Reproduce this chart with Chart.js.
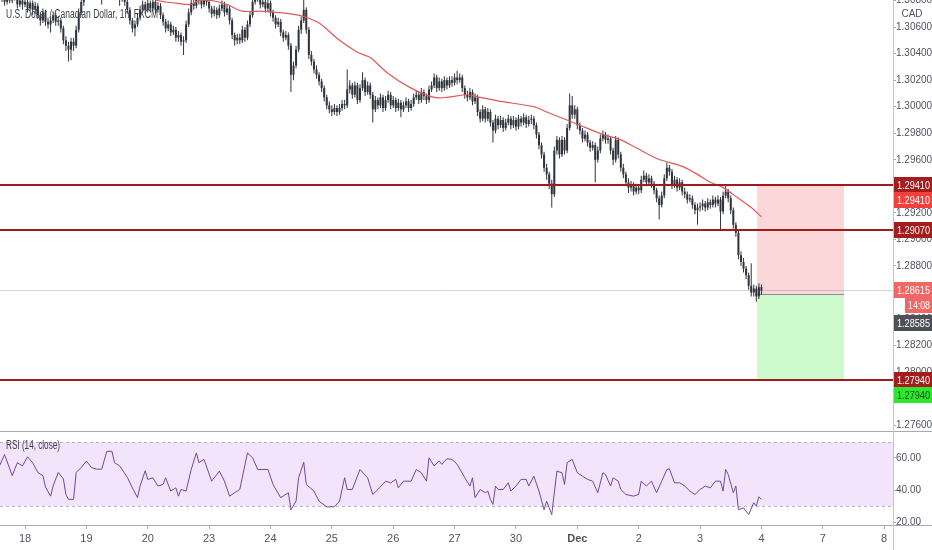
<!DOCTYPE html>
<html>
<head>
<meta charset="utf-8">
<script src="https://cdn.jsdelivr.net/npm/chart.js@4.4.1/dist/chart.umd.min.js"></script>
<style>
  body { margin: 0; background: #fff; }
  #wrap { position: relative; width: 932px; height: 550px; overflow: hidden; background: #fff; }
  canvas { position: absolute; left: 0; }
  #priceChart { top: 0; }
  #rsiChart { top: 432px; }
  .rule { position: absolute; background: #a8abb3; }
</style>
</head>
<body>
<div id="wrap">
  <canvas id="priceChart" width="932" height="431"></canvas>
  <canvas id="rsiChart" width="932" height="118"></canvas>
  <div class="rule" style="left:0;top:431px;width:932px;height:1px"></div>
  <div class="rule" style="left:0;top:525px;width:932px;height:1px"></div>
  <div class="rule" style="left:893px;top:0;width:1px;height:550px;background:#c3c5cb"></div>
</div>
<script>
// hourly candles, USDCAD, first bar at hour -9 (hour 0 = start of the 18th)
var firstHour = -9;
var opens = [
  1.3086,1.3082,1.3079,1.3083,1.3080,1.3085,1.3082,1.3077,1.3080,1.3077,1.3079,1.3074,
  1.3078,1.3073,1.3076,1.3069,1.3065,1.3071,1.3064,1.3062,1.3065,1.3069,1.3064,1.3065,
  1.3059,1.3050,1.3046,1.3043,1.3049,1.3046,1.3058,1.3071,1.3079,1.3084,1.3088,1.3092,
  1.3095,1.3090,1.3098,1.3094,1.3085,1.3090,1.3097,1.3102,1.3098,1.3093,1.3088,1.3082,
  1.3085,1.3079,1.3073,1.3065,1.3059,1.3062,1.3067,1.3073,1.3077,1.3073,1.3078,1.3074,
  1.3079,1.3073,1.3076,1.3069,1.3064,1.3059,1.3062,1.3056,1.3058,1.3052,1.3054,1.3049,
  1.3050,1.3062,1.3071,1.3078,1.3076,1.3082,1.3080,1.3077,1.3083,1.3079,1.3074,1.3070,
  1.3073,1.3069,1.3074,1.3077,1.3071,1.3074,1.3065,1.3054,1.3050,1.3052,1.3050,1.3058,
  1.3052,1.3062,1.3069,1.3079,1.3084,1.3082,1.3077,1.3079,1.3074,1.3078,1.3071,1.3067,
  1.3062,1.3064,1.3056,1.3052,1.3054,1.3046,1.3024,1.3031,1.3043,1.3058,1.3065,1.3073,
  1.3058,1.3039,1.3034,1.3028,1.3024,1.3019,1.3014,1.3007,1.3001,1.2998,1.2996,1.2999,
  1.2996,1.2999,1.3002,1.3001,1.3013,1.3016,1.3009,1.3016,1.3005,1.3014,1.3020,1.3011,
  1.3016,1.3009,1.2998,1.3005,1.3001,1.3007,1.2999,1.3005,1.3009,1.3001,1.3005,1.2999,
  1.3003,1.2998,1.3001,1.3004,1.2999,1.3002,1.3007,1.3009,1.3005,1.3011,1.3008,1.3005,
  1.3013,1.3016,1.3022,1.3014,1.3019,1.3014,1.3020,1.3016,1.3020,1.3018,1.3022,1.3020,
  1.3022,1.3014,1.3009,1.3007,1.3011,1.3004,1.3007,1.2996,1.2991,1.2998,1.2991,1.2996,
  1.2988,1.2982,1.2991,1.2986,1.2990,1.2984,1.2988,1.2991,1.2986,1.2990,1.2985,1.2991,
  1.2988,1.2992,1.2987,1.2990,1.2991,1.2986,1.2979,1.2971,1.2964,1.2954,1.2949,1.2942,
  1.2934,1.2967,1.2975,1.2964,1.2975,1.2967,1.2984,1.3001,1.2994,1.2998,1.2986,1.2982,
  1.2976,1.2979,1.2973,1.2969,1.2971,1.2960,1.2967,1.2976,1.2979,1.2975,1.2976,1.2967,
  1.2960,1.2975,1.2964,1.2954,1.2949,1.2943,1.2939,1.2941,1.2936,1.2939,1.2937,1.2945,
  1.2948,1.2943,1.2946,1.2942,1.2937,1.2931,1.2926,1.2933,1.2946,1.2954,1.2951,1.2941,
  1.2945,1.2939,1.2943,1.2936,1.2934,1.2930,1.2931,1.2926,1.2922,1.2924,1.2925,1.2927,
  1.2924,1.2928,1.2926,1.2930,1.2927,1.2930,1.2921,1.2933,1.2936,1.2931,1.2922,1.2911,
  1.2905,1.2888,1.2883,1.2878,1.2873,1.2865,1.2860,1.2863,1.2857,1.2864
];
var highs = [
  1.3089,1.3085,1.3087,1.3086,1.3089,1.3088,1.3084,1.3083,1.3082,1.3082,1.3081,1.3080,
  1.3080,1.3079,1.3078,1.3071,1.3074,1.3073,1.3067,1.3068,1.3072,1.3071,1.3068,1.3067,
  1.3061,1.3053,1.3049,1.3052,1.3052,1.3061,1.3074,1.3082,1.3088,1.3092,1.3096,1.3099,
  1.3098,1.3101,1.3100,1.3096,1.3093,1.3100,1.3106,1.3104,1.3100,1.3095,1.3090,1.3088,
  1.3087,1.3081,1.3075,1.3067,1.3065,1.3070,1.3076,1.3080,1.3079,1.3082,1.3080,1.3083,
  1.3081,1.3079,1.3078,1.3071,1.3066,1.3065,1.3064,1.3061,1.3060,1.3057,1.3056,1.3053,
  1.3065,1.3074,1.3082,1.3081,1.3086,1.3085,1.3082,1.3087,1.3085,1.3081,1.3076,1.3076,
  1.3075,1.3077,1.3080,1.3079,1.3077,1.3076,1.3067,1.3056,1.3055,1.3055,1.3061,1.3060,
  1.3065,1.3072,1.3082,1.3088,1.3087,1.3084,1.3082,1.3081,1.3081,1.3080,1.3073,1.3069,
  1.3067,1.3066,1.3058,1.3057,1.3056,1.3048,1.3034,1.3046,1.3061,1.3068,1.3084,1.3075,
  1.3060,1.3042,1.3036,1.3031,1.3026,1.3021,1.3016,1.3009,1.3004,1.3001,1.3002,1.3001,
  1.3002,1.3005,1.3005,1.3028,1.3020,1.3018,1.3019,1.3018,1.3017,1.3026,1.3022,1.3019,
  1.3018,1.3011,1.3008,1.3007,1.3010,1.3009,1.3008,1.3012,1.3011,1.3008,1.3007,1.3006,
  1.3005,1.3004,1.3007,1.3006,1.3005,1.3010,1.3012,1.3011,1.3014,1.3013,1.3010,1.3016,
  1.3019,1.3025,1.3024,1.3022,1.3021,1.3023,1.3022,1.3023,1.3023,1.3025,1.3027,1.3025,
  1.3024,1.3016,1.3012,1.3014,1.3013,1.3010,1.3009,1.2998,1.3001,1.3000,1.2999,1.2998,
  1.2990,1.2994,1.2993,1.2993,1.2992,1.2991,1.2994,1.2993,1.2993,1.2992,1.2994,1.2993,
  1.2995,1.2994,1.2993,1.2994,1.2993,1.2988,1.2981,1.2973,1.2966,1.2957,1.2951,1.2945,
  1.2970,1.2978,1.2977,1.2978,1.2977,1.2987,1.3010,1.3008,1.3001,1.3000,1.2988,1.2984,
  1.2982,1.2981,1.2975,1.2974,1.2973,1.2970,1.2979,1.2982,1.2981,1.2979,1.2978,1.2969,
  1.2978,1.2977,1.2966,1.2957,1.2951,1.2946,1.2944,1.2943,1.2942,1.2941,1.2948,1.2952,
  1.2950,1.2949,1.2948,1.2944,1.2939,1.2933,1.2936,1.2949,1.2958,1.2956,1.2953,1.2948,
  1.2947,1.2946,1.2945,1.2939,1.2936,1.2934,1.2933,1.2928,1.2927,1.2928,1.2930,1.2929,
  1.2931,1.2930,1.2933,1.2932,1.2933,1.2932,1.2936,1.2941,1.2938,1.2933,1.2924,1.2913,
  1.2907,1.2891,1.2886,1.2880,1.2875,1.2882,1.2866,1.2865,1.2867,1.2866
];
var lows = [
  1.3079,1.3076,1.3077,1.3078,1.3078,1.3080,1.3074,1.3075,1.3073,1.3075,1.3071,1.3072,
  1.3069,1.3070,1.3066,1.3061,1.3063,1.3061,1.3059,1.3056,1.3063,1.3061,1.3061,1.3056,
  1.3047,1.3042,1.3034,1.3035,1.3042,1.3044,1.3056,1.3069,1.3076,1.3081,1.3085,1.3089,
  1.3086,1.3088,1.3090,1.3077,1.3082,1.3088,1.3095,1.3095,1.3090,1.3085,1.3076,1.3079,
  1.3076,1.3070,1.3062,1.3056,1.3053,1.3060,1.3065,1.3071,1.3070,1.3071,1.3071,1.3072,
  1.3070,1.3071,1.3066,1.3061,1.3056,1.3057,1.3053,1.3054,1.3049,1.3049,1.3046,1.3039,
  1.3048,1.3060,1.3069,1.3073,1.3074,1.3077,1.3074,1.3075,1.3076,1.3071,1.3067,1.3068,
  1.3066,1.3067,1.3072,1.3068,1.3069,1.3062,1.3051,1.3046,1.3047,1.3047,1.3048,1.3049,
  1.3050,1.3060,1.3067,1.3077,1.3079,1.3074,1.3075,1.3071,1.3072,1.3068,1.3064,1.3059,
  1.3060,1.3053,1.3049,1.3050,1.3043,1.3011,1.3020,1.3029,1.3041,1.3055,1.3063,1.3055,
  1.3036,1.3031,1.3025,1.3021,1.3016,1.3011,1.3004,1.2998,1.2995,1.2993,1.2994,1.2993,
  1.2994,1.2997,1.2998,1.2999,1.3010,1.3006,1.3007,1.3002,1.3003,1.3012,1.3008,1.3009,
  1.3006,1.2988,1.2996,1.2998,1.2999,1.2996,1.2997,1.3003,1.2998,1.2999,1.2996,1.2997,
  1.2992,1.2996,1.2999,1.2996,1.2997,1.3000,1.3005,1.3002,1.3003,1.3005,1.3002,1.3003,
  1.3011,1.3014,1.3011,1.3012,1.3011,1.3012,1.3013,1.3014,1.3015,1.3016,1.3017,1.3018,
  1.3011,1.3006,1.3004,1.3005,1.3001,1.3002,1.2993,1.2988,1.2989,1.2988,1.2989,1.2985,
  1.2973,1.2980,1.2983,1.2984,1.2981,1.2982,1.2986,1.2983,1.2984,1.2982,1.2983,1.2985,
  1.2986,1.2984,1.2985,1.2987,1.2983,1.2976,1.2968,1.2961,1.2951,1.2945,1.2938,1.2924,
  1.2932,1.2964,1.2961,1.2962,1.2964,1.2965,1.2982,1.2991,1.2991,1.2983,1.2979,1.2973,
  1.2974,1.2970,1.2966,1.2967,1.2943,1.2958,1.2965,1.2974,1.2972,1.2972,1.2964,1.2956,
  1.2958,1.2961,1.2951,1.2946,1.2940,1.2935,1.2936,1.2933,1.2934,1.2934,1.2935,1.2943,
  1.2940,1.2941,1.2939,1.2934,1.2928,1.2915,1.2924,1.2931,1.2944,1.2948,1.2938,1.2939,
  1.2936,1.2937,1.2933,1.2931,1.2927,1.2928,1.2923,1.2919,1.2911,1.2921,1.2922,1.2921,
  1.2922,1.2923,1.2924,1.2924,1.2925,1.2907,1.2919,1.2931,1.2928,1.2919,1.2908,1.2902,
  1.2885,1.2880,1.2875,1.2870,1.2862,1.2857,1.2857,1.2853,1.2855,1.2858
];
var closes = [
  1.3082,1.3079,1.3083,1.3080,1.3085,1.3082,1.3077,1.3080,1.3077,1.3079,1.3074,1.3078,
  1.3073,1.3076,1.3069,1.3065,1.3071,1.3064,1.3062,1.3065,1.3069,1.3064,1.3065,1.3059,
  1.3050,1.3046,1.3043,1.3049,1.3046,1.3058,1.3071,1.3079,1.3084,1.3088,1.3092,1.3095,
  1.3090,1.3098,1.3094,1.3085,1.3090,1.3097,1.3102,1.3098,1.3093,1.3088,1.3082,1.3085,
  1.3079,1.3073,1.3065,1.3059,1.3062,1.3067,1.3073,1.3077,1.3073,1.3078,1.3074,1.3079,
  1.3073,1.3076,1.3069,1.3064,1.3059,1.3062,1.3056,1.3058,1.3052,1.3054,1.3049,1.3050,
  1.3062,1.3071,1.3078,1.3076,1.3082,1.3080,1.3077,1.3083,1.3079,1.3074,1.3070,1.3073,
  1.3069,1.3074,1.3077,1.3071,1.3074,1.3065,1.3054,1.3050,1.3052,1.3050,1.3058,1.3052,
  1.3062,1.3069,1.3079,1.3084,1.3082,1.3077,1.3079,1.3074,1.3078,1.3071,1.3067,1.3062,
  1.3064,1.3056,1.3052,1.3054,1.3046,1.3024,1.3031,1.3043,1.3058,1.3065,1.3073,1.3058,
  1.3039,1.3034,1.3028,1.3024,1.3019,1.3014,1.3007,1.3001,1.2998,1.2996,1.2999,1.2996,
  1.2999,1.3002,1.3001,1.3013,1.3016,1.3009,1.3016,1.3005,1.3014,1.3020,1.3011,1.3016,
  1.3009,1.2998,1.3005,1.3001,1.3007,1.2999,1.3005,1.3009,1.3001,1.3005,1.2999,1.3003,
  1.2998,1.3001,1.3004,1.2999,1.3002,1.3007,1.3009,1.3005,1.3011,1.3008,1.3005,1.3013,
  1.3016,1.3022,1.3014,1.3019,1.3014,1.3020,1.3016,1.3020,1.3018,1.3022,1.3020,1.3022,
  1.3014,1.3009,1.3007,1.3011,1.3004,1.3007,1.2996,1.2991,1.2998,1.2991,1.2996,1.2988,
  1.2982,1.2991,1.2986,1.2990,1.2984,1.2988,1.2991,1.2986,1.2990,1.2985,1.2991,1.2988,
  1.2992,1.2987,1.2990,1.2991,1.2986,1.2979,1.2971,1.2964,1.2954,1.2949,1.2942,1.2934,
  1.2967,1.2975,1.2964,1.2975,1.2967,1.2984,1.3001,1.2994,1.2998,1.2986,1.2982,1.2976,
  1.2979,1.2973,1.2969,1.2971,1.2960,1.2967,1.2976,1.2979,1.2975,1.2976,1.2967,1.2960,
  1.2975,1.2964,1.2954,1.2949,1.2943,1.2939,1.2941,1.2936,1.2939,1.2937,1.2945,1.2948,
  1.2943,1.2946,1.2942,1.2937,1.2931,1.2926,1.2933,1.2946,1.2954,1.2951,1.2941,1.2945,
  1.2939,1.2943,1.2936,1.2934,1.2930,1.2931,1.2926,1.2922,1.2924,1.2925,1.2927,1.2924,
  1.2928,1.2926,1.2930,1.2927,1.2930,1.2921,1.2933,1.2936,1.2931,1.2922,1.2911,1.2905,
  1.2888,1.2883,1.2878,1.2873,1.2865,1.2860,1.2863,1.2857,1.2864,1.28615
];

// moving average line [hour, price]
var maPoints = [
  [30,1.3095],[45,1.3086],[52,1.3080],[59,1.3078],[65,1.3077],[68,1.3080],[73,1.3080],
  [79,1.3077],[85,1.3072],[92,1.3072],[99,1.3071],[104,1.3070],[109,1.3068],[115,1.3063],
  [123,1.3050],[130,1.3041],[135,1.3037],[142,1.3025],[151,1.3014],[160,1.3007],[165,1.3007],
  [173,1.3009],[178,1.3007],[186,1.3004],[199,1.3000],[204,1.2996],[212,1.2990],[217,1.2986],
  [226,1.2979],[233,1.2975],[239,1.2969],[247,1.2961],[252,1.2958],[257,1.2955],[263,1.2949],
  [268,1.2943],[273,1.2939],[279,1.2931],[284,1.2924],[288,1.2917]
];

// RSI(14) [hour, value]
var rsiPoints = [
  [-10,55],[-8,62],[-5,49],[-3,57],[-1,55],[1,60.6],[3,57],[5,51],[7,49],[8,42],[10,36.4],
  [11,42.6],[13,51],[15,47],[16,37.4],[17,34.4],[19,34.4],[20,51],[22,54],[24,58],[26,54],
  [28,53],[30,53],[32,64],[34,64],[35,57],[37,55],[40,48],[42,41.5],[44,35.4],[45,42.6],
  [47,52],[48,46.7],[50,47.7],[52,42.6],[54,43.6],[55,47.7],[57,39.5],[59,41.5],[60,36.4],
  [61,40.5],[63,39.5],[65,52.8],[67,63],[68,57],[70,59],[73,45.6],[76,51.8],[78,45.6],
  [80,36.4],[83,39.5],[84,40.5],[87,63],[89,60],[91,52.8],[95,52.8],[97,43.6],[100,35.4],
  [103,38.5],[104,28],[106,33.3],[107,47.7],[109,57.3],[110,43.6],[113,39.5],[115,33.3],
  [118,29.8],[121,29.8],[123,33.3],[125,47.7],[126,40.5],[128,40.5],[131,52.8],[134,47.7],
  [136,37.4],[138,40.5],[141,45.6],[143,44.6],[145,46.7],[146,41.5],[148,45.6],[151,45.6],
  [153,52.8],[155,50.8],[157,45.6],[158,60],[160,55],[162,58],[163,56],[165,59.4],[167,59],
  [169,56],[172,47.7],[174,42.6],[175,47.7],[176,35.4],[178,40.5],[180,38.5],[181,39.5],
  [182,34.4],[183,31.3],[184,42.6],[185,40.5],[187,40.5],[189,44.6],[190,39.5],[192,42.6],
  [194,46.7],[196,46.7],[197,42.6],[199,48.7],[201,39.5],[203,28],[204,33.3],[205,29.2],
  [206,25],[208,51.8],[210,50.8],[211,43.6],[212,57],[214,59],[216,50.8],[218,48.7],
  [220,46.7],[222,45.6],[224,38.5],[226,50.8],[227,49.7],[229,42.6],[230,47.7],[232,45.6],
  [233,40.5],[235,37.4],[238,36.4],[240,37.4],[241,45.6],[243,42.6],[245,45.6],[247,38.5],
  [249,45.6],[251,52.8],[252,53.2],[254,44.6],[256,44.6],[258,42.6],[260,39.5],[262,37.4],
  [264,40.5],[266,42.6],[268,41.5],[270,45.6],[272,45.6],[273,39.5],[274,52.8],[275,49.7],
  [277,38.5],[278,42.6],[279,28],[281,29.2],[283,25],[285,32.3],[286,30.3],[287,36],[288,34.4]
];

var dayTicks = [0, 24, 48, 72, 96, 120, 144, 168, 192, 216, 240, 264, 288, 312, 336];
var dayLabels = ['18', '19', '20', '23', '24', '25', '26', '27', '30', 'Dec', '2', '3', '4', '7', '8'];
var priceTicks = [1.276, 1.278, 1.280, 1.282, 1.284, 1.286, 1.288, 1.290, 1.292, 1.294,
                  1.296, 1.298, 1.300, 1.302, 1.304, 1.306, 1.308];
var rsiTicks = [20, 40, 60];

var levelPrices = [1.2941, 1.2907, 1.2794];
var lastPrice = 1.28615;
var countdown = '14:08';
var position = { fromHour: 286.3, toHour: 320.3, stop: 1.2941, entry: 1.28585, target: 1.2794 };

var FONT = "'Liberation Sans', Arial, sans-serif";
Chart.defaults.font.family = FONT;
Chart.defaults.font.size = 10;
Chart.defaults.color = '#50535e';

var xMin = -9.78, xMax = 339.45;
var hours = closes.map(function (_, i) { return firstHour + i; });

function drawTag(ctx, y, text, bg, fg, left) {
  y = Math.round(y);
  ctx.fillStyle = bg;
  ctx.fillRect(left, y - 8, 932 - left, 16);
  ctx.fillStyle = fg;
  ctx.textAlign = 'left';
  ctx.textBaseline = 'middle';
  ctx.fillText(text, left + 3, y + 0.5, 932 - left - 5);
}

var pricePanel = {
  id: 'pricePanel',
  beforeDatasetsDraw: function (chart) {
    var ctx = chart.ctx, a = chart.chartArea, x = chart.scales.x, y = chart.scales.y;
    ctx.save();
    var yl = Math.round(y.getPixelForValue(lastPrice)) + 0.5;
    ctx.strokeStyle = '#d4d6dc';
    ctx.lineWidth = 1;
    ctx.beginPath(); ctx.moveTo(a.left, yl); ctx.lineTo(a.right, yl); ctx.stroke();

    var x0 = x.getPixelForValue(position.fromHour), x1 = x.getPixelForValue(position.toHour);
    var ys = y.getPixelForValue(position.stop), ye = y.getPixelForValue(position.entry),
        yt = y.getPixelForValue(position.target);
    ctx.fillStyle = 'rgba(242, 54, 69, 0.2)';
    ctx.fillRect(x0, ys, x1 - x0, ye - ys);
    ctx.fillStyle = 'rgba(0, 230, 0, 0.2)';
    ctx.fillRect(x0, ye, x1 - x0, yt - ye);
    ctx.strokeStyle = '#8a8d96';
    ctx.beginPath(); ctx.moveTo(x0, Math.round(ye) + 0.5); ctx.lineTo(x1, Math.round(ye) + 0.5); ctx.stroke();
    ctx.restore();
  },
  afterDatasetsDraw: function (chart) {
    var ctx = chart.ctx, a = chart.chartArea, y = chart.scales.y;
    ctx.save();
    ctx.strokeStyle = '#a01c1c';
    ctx.lineWidth = 2;
    levelPrices.forEach(function (p) {
      var py = Math.round(y.getPixelForValue(p));
      ctx.beginPath(); ctx.moveTo(a.left, py); ctx.lineTo(a.right, py); ctx.stroke();
    });
    ctx.fillStyle = '#3d404a';
    ctx.font = '12px ' + FONT;
    ctx.textAlign = 'left';
    ctx.textBaseline = 'middle';
    ctx.fillText('U.S. Dollar / Canadian Dollar, 1h, FXCM', 6, 15, 152);
    ctx.restore();
  },
  afterDraw: function (chart) {
    var ctx = chart.ctx, y = chart.scales.y;
    ctx.save();
    ctx.font = '10px ' + FONT;
    ctx.fillStyle = '#50535e';
    ctx.textAlign = 'center';
    ctx.textBaseline = 'middle';
    ctx.fillText('CAD', 912, 14);
    ctx.font = '11px ' + FONT;
    var yStop = y.getPixelForValue(levelPrices[0]);
    var yMid = y.getPixelForValue(levelPrices[1]);
    var yTarget = y.getPixelForValue(levelPrices[2]);
    var yLast = y.getPixelForValue(lastPrice);
    var yEntry = y.getPixelForValue(position.entry);
    drawTag(ctx, yStop, '1.29410', '#a51c1c', '#fff', 894);
    drawTag(ctx, yStop + 15, '1.29410', '#f2403d', '#fff', 894);
    drawTag(ctx, yMid, '1.29070', '#a51c1c', '#fff', 894);
    drawTag(ctx, yLast, '1.28615', '#f26666', '#fff', 894);
    drawTag(ctx, yLast + 15, countdown, '#f26666', '#fff', 905);
    drawTag(ctx, yEntry + 28.5, '1.28585', '#4e5058', '#fff', 894);
    drawTag(ctx, yTarget, '1.27940', '#a51c1c', '#fff', 894);
    drawTag(ctx, yTarget + 15, '1.27940', '#2ee62e', '#0f4f0f', 894);
    ctx.restore();
  }
};

new Chart(document.getElementById('priceChart'), {
  type: 'bar',
  data: {
    datasets: [{
      type: 'line',
      data: maPoints.map(function (p) { return { x: p[0], y: p[1] }; }),
      borderColor: '#e05858',
      borderWidth: 1.2,
      pointRadius: 0,
      tension: 0.3
    }, {
      data: hours.map(function (h, i) { return { x: h, y: [opens[i], closes[i]] }; }),
      backgroundColor: '#30333c',
      barThickness: 2,
      minBarLength: 1,
      grouped: false,
      inflateAmount: 0
    }, {
      data: hours.map(function (h, i) { return { x: h, y: [lows[i], highs[i]] }; }),
      backgroundColor: '#30333c',
      barThickness: 1,
      grouped: false,
      inflateAmount: 0
    }]
  },
  options: {
    responsive: false,
    animation: false,
    devicePixelRatio: 1,
    layout: { padding: 0 },
    plugins: { legend: { display: false }, tooltip: { enabled: false } },
    scales: {
      x: {
        type: 'linear', min: xMin, max: xMax, offset: false, display: false,
        grid: { offset: false }
      },
      y: {
        position: 'right', min: 1.27556, max: 1.30804, beginAtZero: false,
        afterBuildTicks: function (s) { s.ticks = priceTicks.map(function (v) { return { value: v }; }); },
        afterFit: function (s) { s.width = 39; s.paddingTop = 0; s.paddingBottom = 0; },
        ticks: { padding: 0, callback: function (v) { return v.toFixed(5); } },
        grid: { drawOnChartArea: false, tickLength: 3, color: '#a8abb3' },
        border: { display: false }
      }
    }
  },
  plugins: [pricePanel]
});

var rsiPanel = {
  id: 'rsiPanel',
  beforeDatasetsDraw: function (chart) {
    var ctx = chart.ctx, a = chart.chartArea, y = chart.scales.y;
    var y70 = Math.round(y.getPixelForValue(70)), y30 = Math.round(y.getPixelForValue(30));
    ctx.save();
    ctx.fillStyle = '#f2e4fb';
    ctx.fillRect(a.left, y70, a.right - a.left, y30 - y70);
    ctx.strokeStyle = '#b4b6bd';
    ctx.lineWidth = 1;
    ctx.setLineDash([3, 3]);
    [y70, y30].forEach(function (py) {
      ctx.beginPath(); ctx.moveTo(a.left, py + 0.5); ctx.lineTo(a.right, py + 0.5); ctx.stroke();
    });
    ctx.restore();
  },
  afterDatasetsDraw: function (chart) {
    var ctx = chart.ctx;
    ctx.save();
    ctx.fillStyle = '#3d404a';
    ctx.font = '12px ' + FONT;
    ctx.textAlign = 'left';
    ctx.textBaseline = 'middle';
    ctx.fillText('RSI (14, close)', 6, 14, 54);
    ctx.restore();
  }
};

new Chart(document.getElementById('rsiChart'), {
  type: 'line',
  data: {
    datasets: [{
      data: rsiPoints.map(function (p) { return { x: p[0], y: p[1] }; }),
      borderColor: '#74489a',
      borderWidth: 1,
      pointRadius: 0,
      tension: 0
    }]
  },
  options: {
    responsive: false,
    animation: false,
    devicePixelRatio: 1,
    layout: { padding: 0 },
    plugins: { legend: { display: false }, tooltip: { enabled: false } },
    scales: {
      x: {
        type: 'linear', min: xMin, max: xMax, offset: false,
        afterBuildTicks: function (s) { s.ticks = dayTicks.map(function (v) { return { value: v }; }); },
        afterFit: function (s) { s.height = 25; s.paddingLeft = 0; s.paddingRight = 0; },
        ticks: {
          autoSkip: false, maxRotation: 0, padding: 3,
          callback: function (v) { return dayLabels[dayTicks.indexOf(v)]; },
          font: function (c) {
            return { size: 11, weight: (c.tick && c.tick.value === 216) ? 'bold' : 'normal' };
          }
        },
        grid: { drawOnChartArea: false, tickLength: 4, color: '#a8abb3' },
        border: { display: false }
      },
      y: {
        position: 'right', min: 18.6, max: 75.9,
        afterBuildTicks: function (s) { s.ticks = rsiTicks.map(function (v) { return { value: v }; }); },
        afterFit: function (s) { s.width = 39; s.paddingTop = 0; s.paddingBottom = 0; },
        ticks: { padding: 0, callback: function (v) { return v.toFixed(2); } },
        grid: { drawOnChartArea: false, tickLength: 3, color: '#a8abb3' },
        border: { display: false }
      }
    }
  },
  plugins: [rsiPanel]
});
</script>
</body>
</html>
